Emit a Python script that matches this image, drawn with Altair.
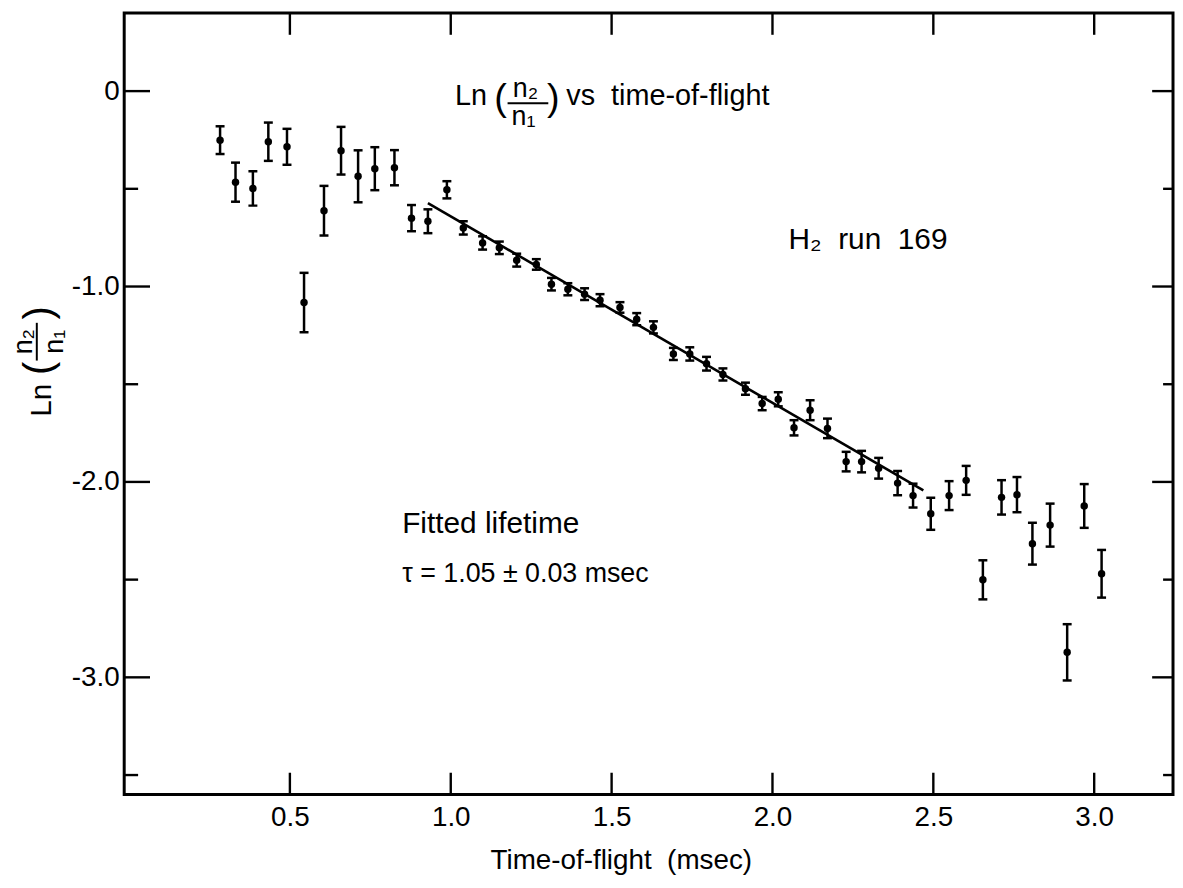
import altair as alt
import pandas as pd

# ---- data ----
tof = [0.283, 0.331, 0.385, 0.433, 0.491, 0.544, 0.606, 0.659, 0.712, 0.764, 0.825, 0.878, 0.929, 0.988,
       1.039, 1.099, 1.151, 1.205,
       1.266, 1.313, 1.364, 1.416, 1.464, 1.526, 1.578, 1.630, 1.692, 1.743, 1.795, 1.846, 1.916, 1.968,
       2.018, 2.067, 2.117, 2.171,
       2.229, 2.277, 2.330, 2.389, 2.437, 2.492, 2.549, 2.602, 2.654, 2.712, 2.760, 2.808, 2.863, 2.916,
       2.969, 3.023]
ln_ratio = [-0.251, -0.466, -0.498, -0.259, -0.285, -1.082, -0.612, -0.305, -0.436, -0.397, -0.392, -0.650,
            -0.666, -0.505,
            -0.700, -0.777, -0.802, -0.865,
            -0.887, -0.988, -1.014, -1.039, -1.070, -1.107, -1.167, -1.209, -1.345, -1.345, -1.395, -1.450,
            -1.523, -1.599, -1.577, -1.723, -1.633, -1.726,
            -1.896, -1.896, -1.930, -2.006, -2.070, -2.163, -2.070, -1.992, -2.501, -2.079, -2.065, -2.316,
            -2.221, -2.872, -2.123, -2.470]
err = [0.071, 0.100, 0.088, 0.098, 0.092, 0.152, 0.127, 0.122, 0.133, 0.110, 0.090, 0.067, 0.061, 0.044,
       0.034, 0.034, 0.032, 0.033,
       0.027, 0.032, 0.031, 0.030, 0.031, 0.027, 0.031, 0.031, 0.031, 0.034, 0.035, 0.031, 0.031, 0.034,
       0.036, 0.039, 0.051, 0.050,
       0.050, 0.055, 0.053, 0.062, 0.061, 0.082, 0.074, 0.074, 0.100, 0.088, 0.090, 0.107, 0.110, 0.144,
       0.112, 0.122]
fit_x = [0.929, 2.469]
fit_y = [-0.573, -2.043]

x_major = [0.5, 1.0, 1.5, 2.0, 2.5, 3.0]
y_major = [0.0, -1.0, -2.0, -3.0]
y_minor = [-0.5, -1.5, -2.5, -3.5]

W, H = 1056, 787
FONT = "Liberation Sans"
INK = "black"
NB = "\u00a0"

xs = alt.Scale(domain=[-0.015, 3.245], nice=False, zero=False)
ys = alt.Scale(domain=[-3.6, 0.4], nice=False, zero=False)

xaxis = alt.Axis(values=x_major, format=".1f", ticks=False, domain=False, grid=False,
                 labelFontSize=28, labelPadding=9, labelFlush=False,
                 title="Time-of-flight" + NB + NB + "(msec)", titleFontSize=28, titleFontWeight="normal",
                 titleX=500, titleY=66, titleBaseline="middle", titleAlign="center")
yaxis = alt.Axis(values=y_major, ticks=False, domain=False, grid=False,
                 labelFontSize=28, labelPadding=5, title=None,
                 labelExpr="datum.value == 0 ? '0' : '-' + format(abs(datum.value), '.1f')")

df = pd.DataFrame({"t": tof, "v": ln_ratio, "e": err})
df["lo"] = df["v"] - df["e"]
df["hi"] = df["v"] + df["e"]
base = alt.Chart(df)


def X(f):
    return alt.X(f, scale=xs, axis=xaxis)


def Y(f):
    return alt.Y(f, scale=ys, axis=yaxis)


bars = base.mark_rule(color=INK, strokeWidth=2.5).encode(x=X("t:Q"), y=Y("lo:Q"), y2="hi:Q")
cap_lo = base.mark_tick(color=INK, thickness=2.5, size=9, orient="horizontal", opacity=1).encode(
    x=X("t:Q"), y=Y("lo:Q"))
cap_hi = base.mark_tick(color=INK, thickness=2.5, size=9, orient="horizontal", opacity=1).encode(
    x=X("t:Q"), y=Y("hi:Q"))
pts = base.mark_circle(color=INK, size=56, opacity=1).encode(x=X("t:Q"), y=Y("v:Q"))

fit = alt.Chart(pd.DataFrame({"t": fit_x, "v": fit_y})).mark_line(color=INK, strokeWidth=2.6).encode(
    x=X("t:Q"), y=Y("v:Q"))

# ---- inward frame ticks ----
ymaj = pd.DataFrame({"v": y_major})
ymin = pd.DataFrame({"v": y_minor})
xmaj = pd.DataFrame({"t": x_major})


def ytick(d, a, b):
    return alt.Chart(d).mark_rule(color=INK, strokeWidth=2.4).encode(
        y=Y("v:Q"), x=alt.value(a), x2=alt.value(b))


def xtick(a, b):
    return alt.Chart(xmaj).mark_rule(color=INK, strokeWidth=2.4).encode(
        x=X("t:Q"), y=alt.value(a), y2=alt.value(b))


ticks = [ytick(ymaj, 0, 26), ytick(ymin, 0, 14), ytick(ymaj, W - 21, W), ytick(ymin, W - 10, W),
         xtick(H - 22, H), xtick(0, 22)]


# ---- annotations ----
def note(txt, x, y, size=28, baseline="alphabetic"):
    return alt.Chart(alt.Data(values=[{}])).mark_text(
        text=txt, font=FONT, fontSize=size, align="left", baseline=baseline, color=INK).encode(
        x=alt.datum(x, scale=xs, axis=xaxis), y=alt.datum(y, scale=ys, axis=yaxis))


def pnote(txt, px, py, size=26, angle=0, baseline="middle"):
    return alt.Chart(alt.Data(values=[{}])).mark_text(
        text=txt, font=FONT, fontSize=size, align="center", baseline=baseline, angle=angle,
        color=INK).encode(x=alt.value(px), y=alt.value(py))


def pbar(x1, x2, y1, y2):
    return alt.Chart(alt.Data(values=[{}])).mark_rule(color=INK, strokeWidth=2).encode(
        x=alt.value(x1), x2=alt.value(x2), y=alt.value(y1), y2=alt.value(y2))


# in-plot title (fraction pieces as pixel offsets from the plot's top-left corner)
title_parts = [
    note("Ln", 1.013, -0.073, 29),
    pnote("(", 379, 87, 38),
    pnote("n\u2082", 404, 85, 27, baseline="alphabetic"),
    pbar(386, 427, 91, 91),
    pnote("n\u2081", 402, 113, 27, baseline="alphabetic"),
    pnote(")", 432, 87, 38),
    note("vs" + NB + NB + "time-of-flight", 1.359, -0.073, 29),
]
notes = [
    note("H\u2082" + NB + NB + "run" + NB + NB + "169", 2.05, -0.81, 30),
    note("Fitted lifetime", 0.849, -2.218, 30, baseline="middle"),
    note("\u03c4 = 1.05 \u00b1 0.03 msec", 0.849, -2.472, 27, baseline="middle"),
]
ytitle = [
    pnote("Ln", -83, 390, 30, 270),
    pnote("(", -85, 358, 40, 270),
    pnote("n\u2082", -101, 331, 27, 270),
    pnote("n\u2081", -70, 331, 27, 270),
    pnote(")", -85, 302, 40, 270),
    pbar(-88, -88, 312, 350),
]

chart = alt.layer(bars, cap_lo, cap_hi, pts, fit, *ticks, *title_parts, *notes, *ytitle).properties(
    width=W, height=H,
    padding={"left": 117, "top": 2, "right": 2, "bottom": 80},
    autosize=alt.AutoSizeParams(type="none"),
    background="white",
).configure_view(stroke=INK, strokeWidth=3).configure_axis(
    labelFont=FONT, titleFont=FONT, labelColor=INK, titleColor=INK)

chart.save("out.html", embed_options={"renderer": "svg", "actions": False})
